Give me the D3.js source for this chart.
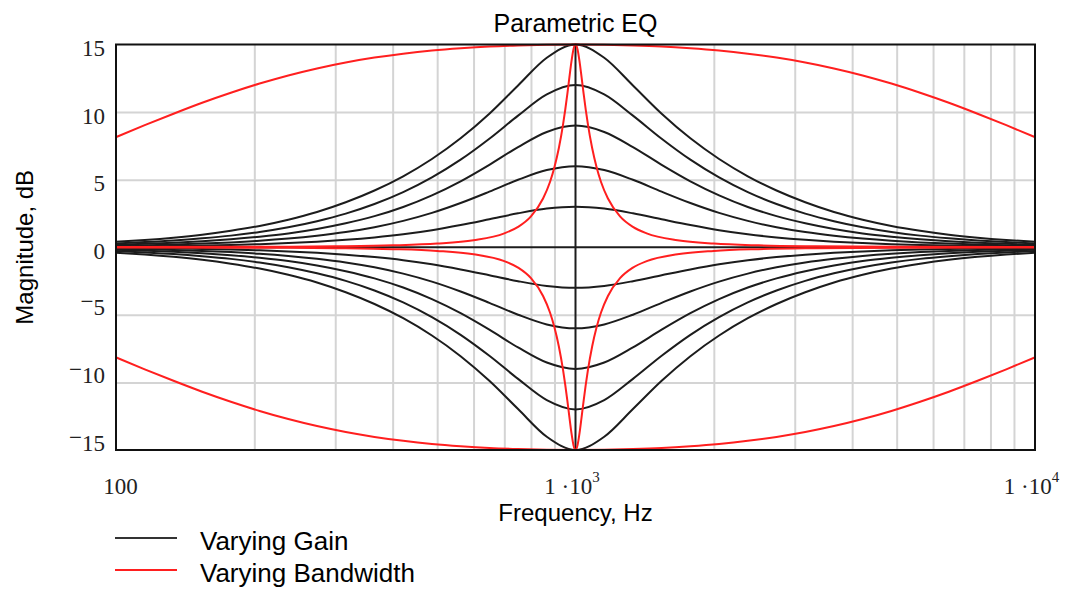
<!DOCTYPE html>
<html>
<head>
<meta charset="utf-8">
<script src="https://cdn.jsdelivr.net/npm/d3@7"></script>
<style>
  body { margin: 0; background: #fff; }
  svg { display: block; }
</style>
</head>
<body>
<div id="chart"></div>
<script>
// 1. DATA

// frequency grid, Hz (1/16 decade steps)
const freqs = [100, 115.5, 133.4, 154, 177.8, 205.4, 237.1, 273.8, 316.2, 365.2, 421.7, 487, 562.3, 649.4, 749.9, 866, 1000,
  1154.8, 1333.5, 1539.9, 1778.3, 2053.5, 2371.4, 2738.4, 3162.3, 3651.7, 4217, 4869.7, 5623.4, 6493.8, 7498.9, 8659.6, 10000];

// Varying Gain (black), dB
const gainP15 = [0.41, 0.54, 0.71, 0.93, 1.22, 1.58, 2.04, 2.61, 3.33, 4.20, 5.25, 6.53, 8.06, 9.88, 11.97, 14.02, 15,
  14.02, 11.97, 9.88, 8.06, 6.53, 5.25, 4.20, 3.33, 2.61, 2.04, 1.58, 1.22, 0.93, 0.71, 0.54, 0.41];
const gainP12 = [0.28, 0.38, 0.50, 0.66, 0.86, 1.13, 1.48, 1.93, 2.49, 3.20, 4.08, 5.17, 6.48, 8.03, 9.74, 11.31, 12,
  11.31, 9.74, 8.03, 6.48, 5.17, 4.08, 3.20, 2.49, 1.93, 1.48, 1.13, 0.86, 0.66, 0.50, 0.38, 0.28];
const gainP9 = [0.19, 0.25, 0.33, 0.44, 0.59, 0.78, 1.02, 1.35, 1.77, 2.30, 2.98, 3.84, 4.88, 6.10, 7.41, 8.53, 9,
  8.53, 7.41, 6.10, 4.88, 3.84, 2.98, 2.30, 1.77, 1.35, 1.02, 0.78, 0.59, 0.44, 0.33, 0.25, 0.19];
const gainP6 = [0.12, 0.15, 0.20, 0.27, 0.36, 0.48, 0.64, 0.85, 1.12, 1.48, 1.95, 2.54, 3.27, 4.11, 4.99, 5.71, 6,
  5.71, 4.99, 4.11, 3.27, 2.54, 1.95, 1.48, 1.12, 0.85, 0.64, 0.48, 0.36, 0.27, 0.20, 0.15, 0.12];
const gainP3 = [0.05, 0.07, 0.10, 0.13, 0.17, 0.23, 0.31, 0.41, 0.55, 0.73, 0.96, 1.26, 1.64, 2.07, 2.51, 2.86, 3,
  2.86, 2.51, 2.07, 1.64, 1.26, 0.96, 0.73, 0.55, 0.41, 0.31, 0.23, 0.17, 0.13, 0.10, 0.07, 0.05];
const gain0 = [0, 0, 0, 0, 0, 0, 0, 0, 0, 0, 0, 0, 0, 0, 0, 0, 0,
  0, 0, 0, 0, 0, 0, 0, 0, 0, 0, 0, 0, 0, 0, 0, 0];
const gainN3 = [-0.05, -0.07, -0.10, -0.13, -0.17, -0.23, -0.31, -0.41, -0.55, -0.73, -0.96, -1.26, -1.64, -2.07, -2.51, -2.86, -3,
  -2.86, -2.51, -2.07, -1.64, -1.26, -0.96, -0.73, -0.55, -0.41, -0.31, -0.23, -0.17, -0.13, -0.10, -0.07, -0.05];
const gainN6 = [-0.12, -0.15, -0.20, -0.27, -0.36, -0.48, -0.64, -0.85, -1.12, -1.48, -1.95, -2.54, -3.27, -4.11, -4.99, -5.71, -6,
  -5.71, -4.99, -4.11, -3.27, -2.54, -1.95, -1.48, -1.12, -0.85, -0.64, -0.48, -0.36, -0.27, -0.20, -0.15, -0.12];
const gainN9 = [-0.19, -0.25, -0.33, -0.44, -0.59, -0.78, -1.02, -1.35, -1.77, -2.30, -2.98, -3.84, -4.88, -6.10, -7.41, -8.53, -9,
  -8.53, -7.41, -6.10, -4.88, -3.84, -2.98, -2.30, -1.77, -1.35, -1.02, -0.78, -0.59, -0.44, -0.33, -0.25, -0.19];
const gainN12 = [-0.28, -0.38, -0.50, -0.66, -0.86, -1.13, -1.48, -1.93, -2.49, -3.20, -4.08, -5.17, -6.48, -8.03, -9.74, -11.31, -12,
  -11.31, -9.74, -8.03, -6.48, -5.17, -4.08, -3.20, -2.49, -1.93, -1.48, -1.13, -0.86, -0.66, -0.50, -0.38, -0.28];
const gainN15 = [-0.41, -0.54, -0.71, -0.93, -1.22, -1.58, -2.04, -2.61, -3.33, -4.20, -5.25, -6.53, -8.06, -9.88, -11.97, -14.02, -15,
  -14.02, -11.97, -9.88, -8.06, -6.53, -5.25, -4.20, -3.33, -2.61, -2.04, -1.58, -1.22, -0.93, -0.71, -0.54, -0.41];

// Varying Bandwidth (red), wide band, dB
const bwWideP15 = [8.15, 9.03, 9.88, 10.69, 11.43, 12.11, 12.71, 13.23, 13.67, 14.03, 14.32, 14.55, 14.72, 14.85, 14.93, 14.98, 15,
  14.98, 14.93, 14.85, 14.72, 14.55, 14.32, 14.03, 13.67, 13.23, 12.71, 12.11, 11.43, 10.69, 9.88, 9.03, 8.15];
const bwWideN15 = [-8.15, -9.03, -9.88, -10.69, -11.43, -12.11, -12.71, -13.23, -13.67, -14.03, -14.32, -14.55, -14.72, -14.85, -14.93, -14.98, -15,
  -14.98, -14.93, -14.85, -14.72, -14.55, -14.32, -14.03, -13.67, -13.23, -12.71, -12.11, -11.43, -10.69, -9.88, -9.03, -8.15];

// narrow band needs a denser grid around 1 kHz
const freqsNarrow = [100, 200, 300, 400, 500, 600, 700, 750, 800, 850, 880, 900, 920, 940, 950, 960, 970, 980, 990, 1000,
  1010.1, 1020.4, 1030.9, 1041.7, 1052.6, 1063.8, 1087, 1111.1, 1136.4, 1176.5, 1250, 1333.3, 1428.6, 1666.7, 2000, 2500, 3333.3, 5000, 10000];
const bwNarrowP15 = [0.01, 0.03, 0.07, 0.14, 0.27, 0.52, 1.03, 1.51, 2.29, 3.61, 4.83, 5.94, 7.34, 9.13, 10.19, 11.35, 12.58, 13.75, 14.65, 15,
  14.65, 13.75, 12.58, 11.35, 10.19, 9.13, 7.34, 5.94, 4.83, 3.61, 2.29, 1.51, 1.03, 0.52, 0.27, 0.14, 0.07, 0.03, 0.01];
const bwNarrowN15 = [-0.01, -0.03, -0.07, -0.14, -0.27, -0.52, -1.03, -1.51, -2.29, -3.61, -4.83, -5.94, -7.34, -9.13, -10.19, -11.35, -12.58, -13.75, -14.65, -15,
  -14.65, -13.75, -12.58, -11.35, -10.19, -9.13, -7.34, -5.94, -4.83, -3.61, -2.29, -1.51, -1.03, -0.52, -0.27, -0.14, -0.07, -0.03, -0.01];

const centerFreq = 1000;
const yTicks = [-15, -10, -5, 0, 5, 10, 15];
const yGrid = [-10, -5, 5, 10];
const xGrid = [200, 300, 400, 500, 600, 700, 800, 900, 2000, 3000, 4000, 5000, 6000, 7000, 8000, 9000];
const xTicks = [100, 1000, 10000];
const xTickExp = { 100: null, 1000: "3", 10000: "4" };
const legendItems = ["Varying Gain", "Varying Bandwidth"];

// 2. SETUP
const width = 1066;
const height = 594;
const plotLeft = 116, plotRight = 1035, plotTop = 44.5, plotBottom = 450;
const black = "#1c1c1c", red = "#ff1f1f";

const svg = d3.select("#chart")
    .append("svg")
    .attr("width", width)
    .attr("height", height);

const x = d3.scaleLog().domain([100, 10000]).range([plotLeft, plotRight]);
const y = d3.scaleLinear().domain([-15, 15]).range([plotBottom, plotTop]);

// gridlines
svg.append("g")
    .attr("transform", `translate(0,${plotBottom})`)
    .call(d3.axisBottom(x).tickValues(xGrid).tickSize(-(plotBottom - plotTop)).tickFormat(""))
    .call(g => g.select(".domain").remove())
    .call(g => g.selectAll("line").attr("stroke", "#d4d4d4").attr("stroke-width", 2));

svg.append("g")
    .attr("transform", `translate(${plotLeft},0)`)
    .call(d3.axisLeft(y).tickValues(yGrid).tickSize(-(plotRight - plotLeft)).tickFormat(""))
    .call(g => g.select(".domain").remove())
    .call(g => g.selectAll("line").attr("stroke", "#d4d4d4").attr("stroke-width", 2));

// 3. CURVES
const line = d3.line()
    .x(d => x(d[0]))
    .y(d => y(d[1]))
    .curve(d3.curveMonotoneX);

const blackSeries = [gainP15, gainP12, gainP9, gainP6, gainP3, gain0, gainN3, gainN6, gainN9, gainN12, gainN15];
svg.append("g")
    .selectAll("path").data(blackSeries).join("path")
    .attr("d", v => line(freqs.map((f, i) => [f, v[i]])))
    .attr("fill", "none")
    .attr("stroke", black)
    .attr("stroke-width", 2);

// marker at the centre frequency
svg.append("line")
    .attr("x1", x(centerFreq)).attr("x2", x(centerFreq))
    .attr("y1", y(-15)).attr("y2", y(15))
    .attr("stroke", black).attr("stroke-width", 2);

const redSeries = [
    [freqs, bwWideP15], [freqs, bwWideN15],
    [freqsNarrow, bwNarrowP15], [freqsNarrow, bwNarrowN15]
];
svg.append("g")
    .selectAll("path").data(redSeries).join("path")
    .attr("d", ([fs, v]) => line(fs.map((f, i) => [f, v[i]])))
    .attr("fill", "none")
    .attr("stroke", red)
    .attr("stroke-width", 2);

// frame
svg.append("rect")
    .attr("x", plotLeft).attr("y", plotTop)
    .attr("width", plotRight - plotLeft).attr("height", plotBottom - plotTop)
    .attr("fill", "none").attr("stroke", "#111").attr("stroke-width", 2);

// 4. AXES LABELS
const serif = "'Liberation Serif', 'Times New Roman', serif";
const sans = "'Liberation Sans', Arial, sans-serif";

const yAxisG = svg.append("g")
    .attr("transform", `translate(${plotLeft},0)`)
    .call(d3.axisLeft(y).tickValues(yTicks).tickSize(0).tickPadding(11).tickFormat(""));
yAxisG.select(".domain").remove();
yAxisG.selectAll(".tick text")
    .attr("font-family", serif).attr("font-size", 23).attr("fill", "#222")
    .attr("dy", 11)
    .each(function(d) {
        const t = d3.select(this);
        if (d < 0) {
            t.append("tspan").attr("dy", -6).text("\u2212");
            t.append("tspan").attr("dy", 6).text(Math.abs(d));
        } else {
            t.text(d);
        }
    });

const xAxisG = svg.append("g")
    .attr("transform", `translate(0,${plotBottom})`)
    .call(d3.axisBottom(x).tickValues(xTicks).tickSize(0).tickPadding(0).tickFormat(""));
xAxisG.select(".domain").remove();
xAxisG.selectAll(".tick text")
    .attr("font-family", serif).attr("font-size", 23).attr("fill", "#222")
    .attr("y", 44).attr("dy", 0)
    .each(function(d) {
        const t = d3.select(this);
        const exp = xTickExp[d];
        if (!exp) {
            t.attr("dx", 4).text(d);
        } else {
            t.attr("dx", -4);
            t.append("tspan").text("1 \u00b710");
            t.append("tspan").attr("dy", -12).attr("font-size", 15).text(exp);
        }
    });

svg.append("text")
    .attr("x", (plotLeft + plotRight) / 2).attr("y", 32)
    .attr("text-anchor", "middle")
    .attr("font-family", sans).attr("font-size", 25)
    .text("Parametric EQ");

svg.append("text")
    .attr("x", (plotLeft + plotRight) / 2).attr("y", 521)
    .attr("text-anchor", "middle")
    .attr("font-family", sans).attr("font-size", 24)
    .text("Frequency, Hz");

svg.append("text")
    .attr("transform", `translate(33,${(plotTop + plotBottom) / 2}) rotate(-90)`)
    .attr("text-anchor", "middle")
    .attr("font-family", sans).attr("font-size", 24)
    .text("Magnitude, dB");

// 5. LEGEND
const legend = svg.append("g").attr("transform", "translate(115,538)");
const legendRows = legend.selectAll("g").data(legendItems).join("g")
    .attr("transform", (d, i) => `translate(0,${i * 32})`);
legendRows.append("line")
    .attr("x1", 0).attr("x2", 62).attr("y1", 0).attr("y2", 0)
    .attr("stroke", (d, i) => i === 0 ? "#333" : red)
    .attr("stroke-width", 2);
legendRows.append("text")
    .attr("x", 85).attr("y", 12)
    .attr("font-family", sans).attr("font-size", 26)
    .text(d => d);
</script>
</body>
</html>
